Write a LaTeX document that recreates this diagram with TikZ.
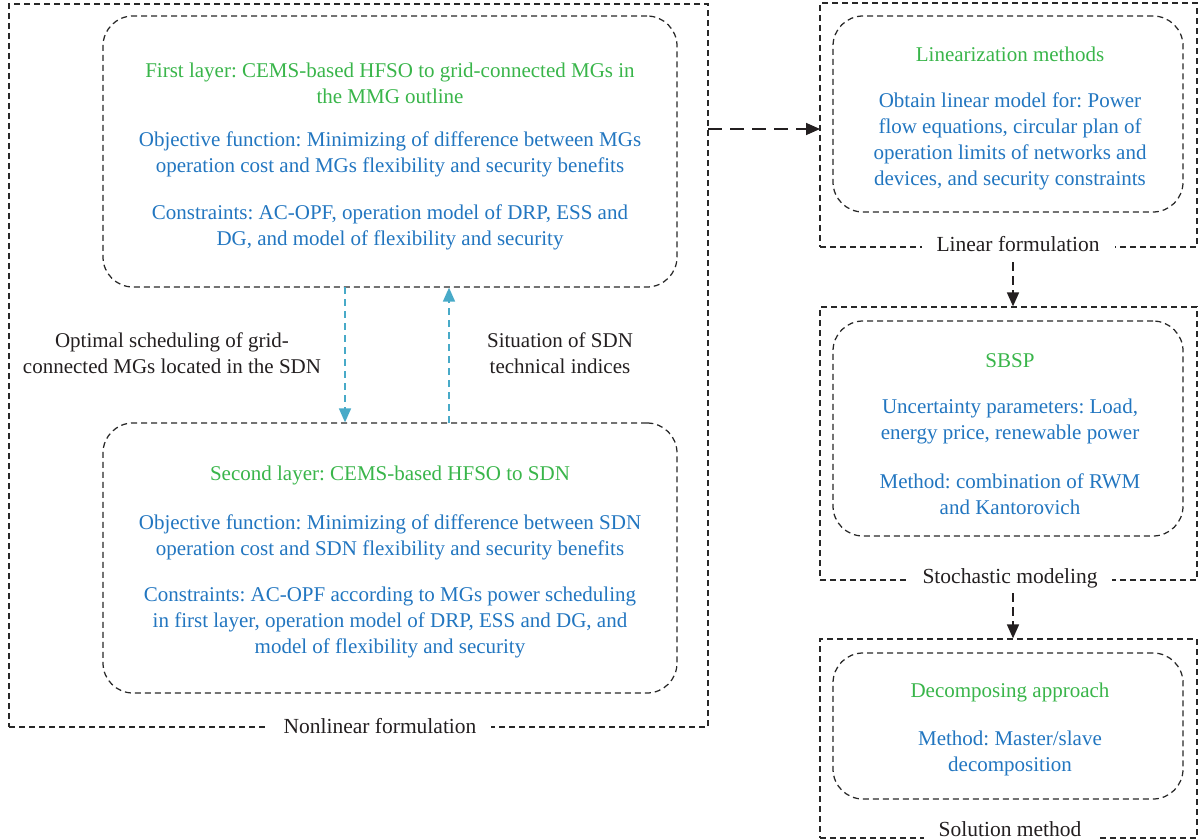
\documentclass[tikz,border=0pt]{standalone}
\usepackage{fontspec}
\setmainfont{Liberation Serif}
\usetikzlibrary{arrows.meta}
\definecolor{tgreen}{RGB}{57,181,74}
\definecolor{tblue}{RGB}{34,118,192}
\definecolor{tcyan}{RGB}{72,170,200}
\definecolor{tgray}{RGB}{40,40,40}
\definecolor{ttext}{RGB}{35,31,32}
\begin{document}
\frenchspacing
\begin{tikzpicture}[x=1pt,y=-1pt,
  outerbox/.style={draw=tgray, line width=1.25pt, dash pattern=on 6pt off 4pt, inner sep=0pt},
  roundbox/.style={draw=tgray, line width=1.25pt, dash pattern=on 6pt off 4pt, rounded corners=30pt, inner sep=0pt},
  txt/.style={align=center, font=\fontsize{21}{26}\selectfont, inner sep=0pt},
  gtxt/.style={txt, text=tgreen},
  btxt/.style={txt, text=tblue},
  ktxt/.style={txt, text=ttext},
  lab/.style={txt, font=\fontsize{21.5}{26}\selectfont, text=ttext, fill=white, inner xsep=15pt, inner ysep=2pt},
  bigarrow/.style={draw=ttext, line width=1.6pt, dash pattern=on 14pt off 8pt, -{Triangle[length=14pt,width=12pt]}},
  smallarrow/.style={draw=ttext, line width=1.6pt, dash pattern=on 9pt off 5pt, -{Triangle[length=14pt,width=12pt]}},
  cyarrow/.style={draw=tcyan, line width=1.6pt, dash pattern=on 7pt off 5pt, -{Triangle[length=14pt,width=12pt]}}
]
\useasboundingbox (0,0) rectangle (1199,840);

% outer boxes
\node[outerbox, minimum width=699pt, minimum height=723pt] (nl) at (358.5,365.5) {};
\node[outerbox, minimum width=377pt, minimum height=244pt] (A) at (1008.5,125) {};
\node[outerbox, minimum width=377pt, minimum height=273pt] (B) at (1008.5,443.5) {};
\node[outerbox, minimum width=377pt, minimum height=199pt] (C) at (1008.5,738.5) {};

% inner rounded boxes
\node[roundbox, minimum width=574pt, minimum height=271pt] (L1) at (390,151.5) {};
\node[roundbox, minimum width=574pt, minimum height=270pt] (L2) at (390,558) {};
\node[roundbox, minimum width=350pt, minimum height=196pt] (Ai) at (1008,114) {};
\node[roundbox, minimum width=350pt, minimum height=215pt] (Bi) at (1008,428.5) {};
\node[roundbox, minimum width=350pt, minimum height=146pt] (Ci) at (1008,726) {};

% texts layer 1
\node[gtxt] (t1a) at (390,83) {First layer: CEMS-based HFSO to grid-connected MGs in\\the MMG outline};
\node[btxt] (t1b) at (390,154) {Objective function: Minimizing of difference between MGs\\operation cost and MGs flexibility and security benefits};
\node[btxt] (t1c) at (390,227) {Constraints: AC-OPF, operation model of DRP, ESS and\\DG, and model of flexibility and security};

% texts layer 2
\node[gtxt] (t2a) at (390,475) {Second layer: CEMS-based HFSO to SDN};
\node[btxt] (t2b) at (390,537) {Objective function: Minimizing of difference between SDN\\operation cost and SDN flexibility and security benefits};
\node[btxt] (t2c) at (390,622) {Constraints: AC-OPF according to MGs power scheduling\\in first layer, operation model of DRP, ESS and DG, and\\model of flexibility and security};

% side labels
\node[ktxt] (sl) at (172,353) {Optimal scheduling of grid-\\connected MGs located in the SDN};
\node[ktxt] (sr) at (560,353) {Situation of SDN\\technical indices};

% right texts
\node[gtxt] (ta1) at (1010,54) {Linearization methods};
\node[btxt] (ta2) at (1010,141.5) {Obtain linear model for: Power\\flow equations, circular plan of\\operation limits of networks and\\devices, and security constraints};
\node[gtxt] (tb1) at (1010,361) {SBSP};
\node[btxt] (tb2) at (1010,421) {Uncertainty parameters: Load,\\energy price, renewable power};
\node[btxt] (tb3) at (1010,494) {Method: combination of RWM\\and Kantorovich};
\node[gtxt] (tc1) at (1010,692) {Decomposing approach};
\node[btxt] (tc2) at (1010,753.5) {Method: Master/slave\\decomposition};

% box labels
\node[lab] (nllab) at (380,726) {Nonlinear formulation};
\node[lab] (Alab) at (1018,244) {Linear formulation};
\node[lab] (Blab) at (1010,578) {Stochastic modeling};
\node[lab] (Clab) at (1010,829) {Solution method};

% arrows
\coordinate (hs) at (708,129);
\coordinate (he) at (820,129);
\draw[bigarrow] (hs) -- (he);
\coordinate (a1s) at (1013,262);
\draw[smallarrow] (a1s) -- (a1s |- B.north);
\coordinate (a2s) at (1013,593);
\draw[smallarrow] (a2s) -- (a2s |- C.north);
\coordinate (c1s) at (345,287);
\coordinate (c2s) at (449,423);
\draw[cyarrow] (c1s) -- (c1s |- L2.north);
\draw[cyarrow] (c2s) -- (c2s |- L1.south);
\end{tikzpicture}
\end{document}
